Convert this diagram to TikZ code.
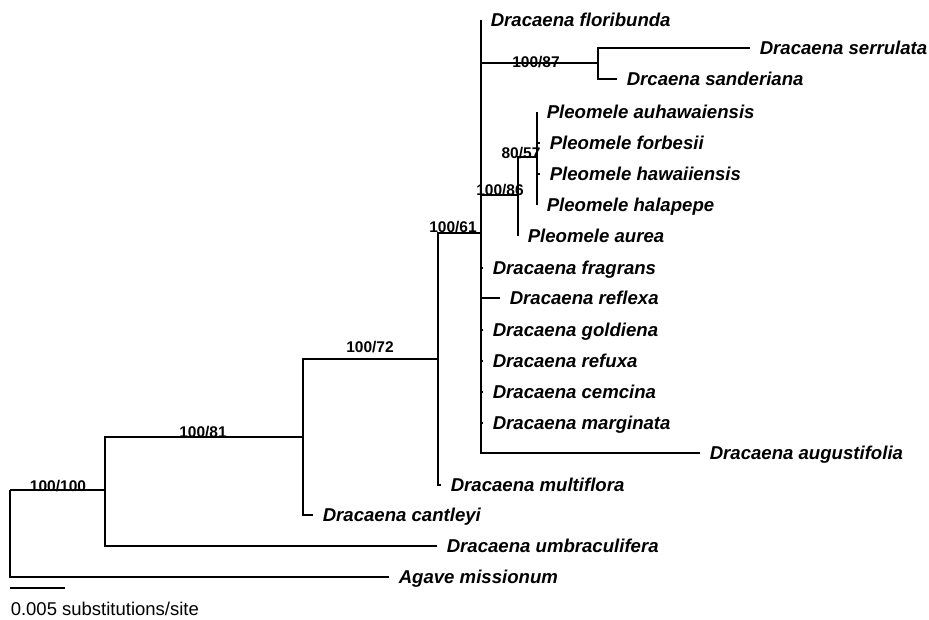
\documentclass[tikz,border=0pt]{standalone}
\usepackage{fontspec}
\setmainfont{Liberation Sans}
\usetikzlibrary{positioning}

\begin{document}
\begin{tikzpicture}[x=1pt,y=-1pt,node distance=9pt,line width=1.5pt,
  taxon/.style={inner sep=0pt,anchor=base west,font=\fontsize{18.6}{20}\selectfont\bfseries\itshape},
  supp/.style={inner sep=0pt,anchor=base,font=\fontsize{15.5}{17}\selectfont\bfseries},
  scaletext/.style={inner sep=0pt,anchor=base west,font=\fontsize{18.5}{20}\selectfont}]
\useasboundingbox (0,0) rectangle (929,619);
% internal nodes
\coordinate (R) at (10,490);
\coordinate (A) at (105,490);
\coordinate (B) at (303,437);
\coordinate (C) at (438,359);
\coordinate (D) at (481,233);
\coordinate (E) at (598,63);
\coordinate (F) at (518,195);
\coordinate (G) at (537,157);
% tips
\foreach \n/\x/\y/\t in {flo/481/20/Dracaena floribunda,ser/750/48/Dracaena serrulata,
  san/617/79/Drcaena sanderiana,auh/537/112/Pleomele auhawaiensis,for/540/143/Pleomele forbesii,
  haw/540/174/Pleomele hawaiiensis,hal/537/205/Pleomele halapepe,aur/518/236/Pleomele aurea,
  fra/483/268/Dracaena fragrans,ref/500/298/Dracaena reflexa,gol/483/330/Dracaena goldiena,
  rfx/483/361/Dracaena refuxa,cem/483/392/Dracaena cemcina,mar/483/423/Dracaena marginata,
  aug/700/453/Dracaena augustifolia,mul/441/485/Dracaena multiflora,can/313/515/Dracaena cantleyi,
  umb/437/546/Dracaena umbraculifera,aga/389/577/Agave missionum}
  {\coordinate (\n) at (\x,\y); \node[taxon] (\n-lab) at ([xshift=9pt,yshift=-6.5pt]\n) {\t};}
% branches
\foreach \a/\b in {R/A,R/aga,A/B,A/umb,B/C,B/can,C/D,C/mul,D/flo,D/E,D/F,D/fra,D/ref,D/gol,
  D/rfx,D/cem,D/mar,D/aug,E/ser,E/san,F/G,F/aur,G/auh,G/for,G/haw,G/hal}
  \draw (\a) |- (\b);
% support values
\node[supp] (s1) at (58,491) {100/100};
\node[supp] (s2) at (203,437) {100/81};
\node[supp] (s3) at (370,352) {100/72};
\node[supp] (s4) at (453,232) {100/61};
\node[supp] (s5) at (536,67) {100/87};
\node[supp] (s6) at (500,195) {100/86};
\node[supp] (s7) at (521,158) {80/57};
% scale bar
\coordinate (sb0) at (10,588);
\coordinate (sb1) at (65,588);
\draw (sb0) -- (sb1);
\node[scaletext] (sbl) at (10,615) {0.005 substitutions/site};
\end{tikzpicture}
\end{document}
